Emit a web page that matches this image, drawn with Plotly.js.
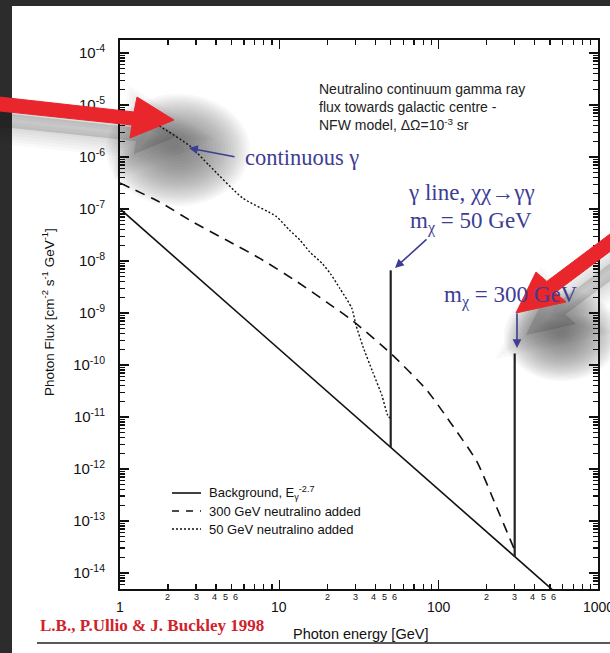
<!DOCTYPE html>
<html><head><meta charset="utf-8">
<script src="https://cdn.plot.ly/plotly-3.0.1.min.js"></script>
<style>html,body{margin:0;padding:0;background:#2c2c2c;overflow:hidden;} #chart{width:610px;height:653px;}</style>
</head><body><div id="chart"></div>
<script>
// ---- data ----
const bgEnergy = [1, 10, 100, 1000];
const bgFlux = [1.0e-7, 2.0e-10, 4.0e-13, 8.0e-16];
const dashEnergy = [1, 1.78, 2.87, 4.68, 7.55, 12.9, 20, 28.8, 50.1, 84.1, 117.5, 173.8, 229, 299];
const dashFlux = [3.16e-7, 1.35e-7, 5.6e-8, 2.5e-8, 1.12e-8, 4.0e-9, 1.58e-9, 7.1e-10, 1.66e-10, 3.3e-11, 8.1e-12, 1.38e-12, 1.95e-13, 2.8e-14];
const dotEnergy = [1.32, 1.78, 2.75, 3.63, 5.89, 9.55, 11.6, 13.5, 15.5, 18.6, 21, 24.0, 28.5, 30.2, 33.4, 38.5, 44.0, 47.9, 50];
const dotFlux = [7.1e-6, 3.9e-6, 1.62e-6, 6.9e-7, 1.62e-7, 7.2e-8, 3.9e-8, 2.5e-8, 1.5e-8, 8.9e-9, 5.6e-9, 2.95e-9, 1.23e-9, 6.0e-10, 2.3e-10, 7.4e-11, 2.6e-11, 1.07e-11, 9.3e-12];
const line50Energy = [50, 50];
const line50Flux = [2.6e-12, 6.6e-9];
const line300Energy = [300, 300];
const line300Flux = [2.04e-14, 1.66e-10];
const yTickVals = [1e-14,1e-13,1e-12,1e-11,1e-10,1e-9,1e-8,1e-7,1e-6,1e-5,1e-4];
const yTickText = ['-14','-13','-12','-11','-10','-9','-8','-7','-6','-5','-4'].map(e => '10<sup>' + e + '</sup>');
const xMajorLabels = ['1','10','100','1000'];
const xMinorLabels = ['2','3','4','5','6'];
const legendLabels = ['Background, E<sub>γ</sub><sup>-2.7</sup>', '300 GeV neutralino added', '50 GeV neutralino added'];

// ---- geometry helpers (pixels -> paper) ----
const L = 120, T = 40, W = 478, H = 549;
const px = x => (x - L) / W;
const py = y => (T + H - y) / H;
const path = pts => 'M' + pts.map(p => px(p[0]).toFixed(5) + ',' + py(p[1]).toFixed(5)).join(' L') + ' Z';

const yMinor = [], xMinor = [];
for (let n = -15; n <= -4; n++) for (let k = 2; k <= 9; k++) yMinor.push(k * Math.pow(10, n));
for (let n = 0; n <= 2; n++) for (let k = 2; k <= 9; k++) xMinor.push(k * Math.pow(10, n));

const black = '#111';
const traces = [
  {x: bgEnergy, y: bgFlux, mode: 'lines', line: {color: black, width: 1.6}},
  {x: dashEnergy, y: dashFlux, mode: 'lines', line: {color: black, width: 1.6, dash: '10px,7px', shape: 'spline', smoothing: 0.6}},
  {x: dotEnergy, y: dotFlux, mode: 'lines', line: {color: black, width: 1.4, dash: '2px,2px', shape: 'spline', smoothing: 0.6}},
  {x: line50Energy, y: line50Flux, mode: 'lines', line: {color: '#222', width: 2.2}},
  {x: line300Energy, y: line300Flux, mode: 'lines', line: {color: '#222', width: 2.2}}
];

const blue = '#3d3d94';
const sans = 'Liberation Sans, Arial, sans-serif';
const serif = 'Liberation Serif, Times New Roman, serif';
const ann = [];
// x tick labels
const minorOff = [0.301, 0.477, 0.59, 0.659, 0.722];
xMajorLabels.forEach((t, i) => ann.push({xref: 'x', yref: 'paper', x: i, y: py(607), text: t, showarrow: false, xanchor: 'center', yanchor: 'middle', font: {family: sans, size: 14, color: black}}));
for (let n = 0; n < 3; n++) xMinorLabels.forEach((t, i) => ann.push({xref: 'x', yref: 'paper', x: n + minorOff[i], y: py(597), text: t, showarrow: false, xanchor: 'center', yanchor: 'middle', font: {family: sans, size: 9, color: black}}));
// axis titles
ann.push({xref: 'paper', yref: 'paper', x: px(360), y: py(634), text: 'Photon energy [GeV]', showarrow: false, xanchor: 'center', yanchor: 'middle', font: {family: sans, size: 14.5, color: black}});
ann.push({xref: 'paper', yref: 'paper', x: px(48), y: py(312), text: 'Photon Flux [cm<sup>-2</sup> s<sup>-1</sup> GeV<sup>-1</sup>]', textangle: -90, showarrow: false, xanchor: 'center', yanchor: 'middle', font: {family: sans, size: 13.5, color: black}});
// info text
ann.push({xref: 'paper', yref: 'paper', x: px(317), y: py(79), text: 'Neutralino continuum gamma ray<br>flux towards galactic centre -<br>NFW model, ΔΩ=10<sup>-3</sup> sr', showarrow: false, xanchor: 'left', yanchor: 'top', align: 'left', font: {family: sans, size: 14, color: '#222'}});
// legend texts
[493, 511, 529].forEach((y, i) => ann.push({xref: 'paper', yref: 'paper', x: px(207), y: py(y), text: legendLabels[i], showarrow: false, xanchor: 'left', yanchor: 'middle', font: {family: sans, size: 13, color: black}}));
// blue annotations
ann.push({xref: 'paper', yref: 'paper', x: px(243), y: py(157), text: 'continuous γ', showarrow: false, xanchor: 'left', yanchor: 'middle', font: {family: serif, size: 22.5, color: blue}});
ann.push({xref: 'paper', yref: 'paper', x: px(406), y: py(192), text: 'γ line, χχ→γγ', showarrow: false, xanchor: 'left', yanchor: 'middle', font: {family: serif, size: 23, color: blue}});
ann.push({xref: 'paper', yref: 'paper', x: px(408), y: py(222), text: 'm<sub>χ</sub> = 50 GeV', showarrow: false, xanchor: 'left', yanchor: 'middle', font: {family: serif, size: 23, color: blue}});
ann.push({xref: 'paper', yref: 'paper', x: px(442), y: py(296), text: 'm<sub>χ</sub> = 300 GeV', showarrow: false, xanchor: 'left', yanchor: 'middle', font: {family: serif, size: 23, color: blue}});
const arrowStyle = {text: '', showarrow: true, arrowhead: 2, arrowsize: 1.1, arrowwidth: 1.6, arrowcolor: blue, standoff: 0, xref: 'paper', yref: 'paper'};
ann.push(Object.assign({x: px(189), y: py(148), ax: 47, ay: 9}, arrowStyle));
ann.push(Object.assign({x: px(395), y: py(268), ax: 33, ay: -30}, arrowStyle));
ann.push(Object.assign({x: px(517), y: py(348), ax: 0, ay: -36}, arrowStyle));
// credit
ann.push({xref: 'paper', yref: 'paper', x: px(38), y: py(625), text: '<b>L.B., P.Ullio &amp; J. Buckley 1998</b>', showarrow: false, xanchor: 'left', yanchor: 'middle', font: {family: serif, size: 17, color: '#d0222b'}});

// shapes
const shapes = [];
shapes.push({type: 'rect', xref: 'paper', yref: 'paper', x0: px(12), x1: px(620), y0: py(6), y1: py(660), fillcolor: '#ffffff', line: {width: 0}, layer: 'below'});
shapes.push({type: 'line', xref: 'paper', yref: 'paper', x0: px(37), x1: px(620), y0: py(643), y1: py(643), line: {color: '#222', width: 1.5}});
// legend samples
shapes.push({type: 'line', xref: 'paper', yref: 'paper', x0: px(172), x1: px(201), y0: py(493), y1: py(493), line: {color: black, width: 1.6}});
shapes.push({type: 'line', xref: 'paper', yref: 'paper', x0: px(172), x1: px(201), y0: py(511), y1: py(511), line: {color: black, width: 1.6, dash: '7px,7px'}});
shapes.push({type: 'line', xref: 'paper', yref: 'paper', x0: px(172), x1: px(201), y0: py(529), y1: py(529), line: {color: black, width: 1.4, dash: '2px,2px'}});
// soft shadows (stacked translucent ellipses) and red arrows
function blob(cx, cy, rx, ry, n, a) {
  for (let i = 0; i < n; i++) {
    const s = Math.pow(1 - i / n, 0.8);
    shapes.push({type: 'circle', xref: 'paper', yref: 'paper', x0: px(cx - rx * s), x1: px(cx + rx * s), y0: py(cy + ry * s), y1: py(cy - ry * s), fillcolor: 'rgba(40,40,40,' + a + ')', line: {width: 0}, layer: 'above'});
  }
}
const arrow1 = [[-10, 96], [134, 112], [137, 97], [174, 120], [130, 138], [132, 125], [-10, 110]];
const arrow2 = [[516, 313], [536, 272], [546.8, 281.4], [625, 222.8], [625, 240.3], [555.2, 292.6], [566, 302]];
function softPoly(poly, dx, dy, widths, a) {
  const moved = poly.map(p => [p[0] + dx, p[1] + dy]);
  widths.forEach(w => shapes.push({type: 'path', xref: 'paper', yref: 'paper', path: path(moved), fillcolor: 'rgba(40,40,40,' + a + ')', line: {color: 'rgba(40,40,40,' + a + ')', width: w}, layer: 'above'}));
}
softPoly(arrow1, 4, 16, [34, 28, 22, 16, 10, 4], 0.028);
blob(178, 150, 72, 56, 22, 0.032);
softPoly(arrow2, 10, 22, [34, 28, 22, 16, 10, 4], 0.028);
blob(562, 335, 58, 46, 22, 0.032);
shapes.push({type: 'path', xref: 'paper', yref: 'paper', path: path(arrow1), fillcolor: '#e8262b', line: {color: '#e8262b', width: 1}, layer: 'above'});
shapes.push({type: 'path', xref: 'paper', yref: 'paper', path: path(arrow2), fillcolor: '#e8262b', line: {color: '#e8262b', width: 1}, layer: 'above'});

const axisCommon = {type: 'log', showgrid: false, zeroline: false, showline: true, linecolor: black, linewidth: 2, mirror: 'ticks', ticks: 'inside', tickcolor: black, tickwidth: 1.5};
const layout = {
  width: 610, height: 653,
  margin: {l: L, r: 610 - L - W, t: T, b: 653 - T - H, pad: 0},
  paper_bgcolor: '#2c2c2c', plot_bgcolor: 'rgba(0,0,0,0)',
  showlegend: false,
  xaxis: Object.assign({}, axisCommon, {range: [0, 3], tickmode: 'array', tickvals: [1, 10, 100, 1000], ticklen: 9, showticklabels: false,
    minor: {tickmode: 'array', tickvals: xMinor, ticks: 'inside', ticklen: 5, tickcolor: black, tickwidth: 1.2}}),
  yaxis: Object.assign({}, axisCommon, {range: [-14.31, -3.75], tickmode: 'array', tickvals: yTickVals, ticktext: yTickText, ticklen: 9,
    ticklabelstandoff: 10, tickfont: {family: sans, size: 15, color: black},
    minor: {tickmode: 'array', tickvals: yMinor, ticks: 'inside', ticklen: 5, tickcolor: black, tickwidth: 1.2}}),
  annotations: ann,
  shapes: shapes
};
Plotly.newPlot('chart', traces, layout, {staticPlot: true, displayModeBar: false});
</script>
</body></html>
